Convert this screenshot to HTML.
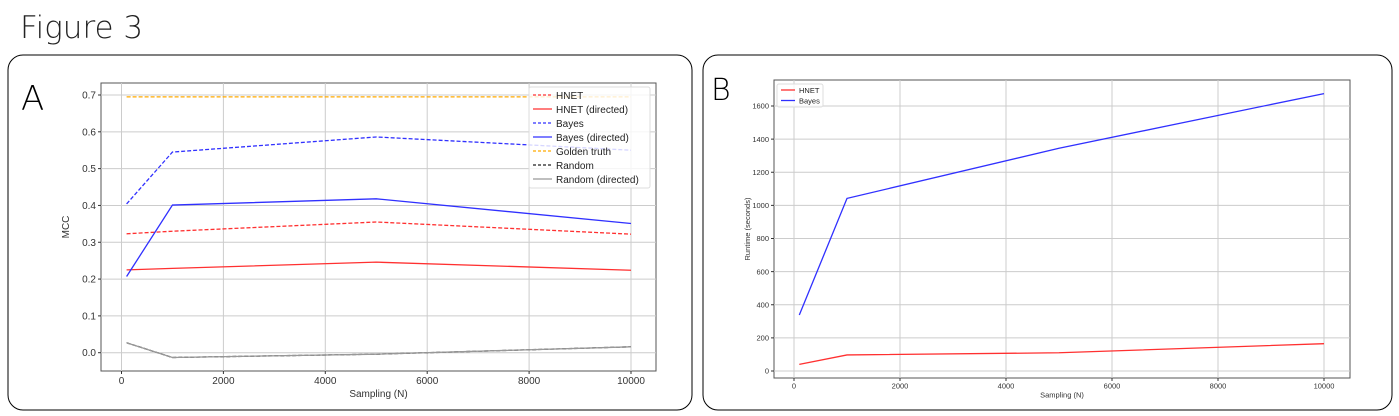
<!DOCTYPE html>
<html><head><meta charset="utf-8"><style>
body{margin:0;background:#fff;width:1399px;height:416px;overflow:hidden;font-family:"Liberation Sans",sans-serif}
svg{position:absolute;left:0;top:0}
</style></head><body>
<svg id="s" width="1399" height="416" xmlns="http://www.w3.org/2000/svg">
<text x="20" y="38" font-size="31" fill="#222" font-family="DejaVu Sans, sans-serif" font-weight="300">Figure 3</text>
<rect x="8" y="55" width="684" height="355" rx="15" fill="#fff" stroke="#000" stroke-width="1"/>
<rect x="703" y="55" width="689" height="355" rx="15" fill="#fff" stroke="#000" stroke-width="1"/>
<text x="21" y="110" font-size="34" fill="#000" font-family="DejaVu Sans, sans-serif" font-weight="300">A</text>
<text x="711" y="100" font-size="30" fill="#000" font-family="DejaVu Sans, sans-serif" font-weight="300">B</text>
<g id="ga"></g><g id="gb"></g>
</svg>
<script>
const xA=[100,1000,5000,10000];
const hnet=[0.323,0.330,0.355,0.322];
const hnetDir=[0.225,0.229,0.246,0.224];
const bayes=[0.404,0.545,0.586,0.550];
const bayesDir=[0.207,0.401,0.418,0.351];
const golden=[0.695,0.695,0.695,0.695];
const rand=[0.027,-0.013,-0.004,0.016];
const randDir=[0.027,-0.013,-0.004,0.016];
const xTicks=[0,2000,4000,6000,8000,10000];
const yTicksA=[0,0.1,0.2,0.3,0.4,0.5,0.6,0.7];
const xB=[100,1000,5000,10000];
const hnetRt=[40,97,110,165];
const bayesRt=[338,1042,1345,1675];
const yTicksB=[0,200,400,600,800,1000,1200,1400,1600];
const NS='http://www.w3.org/2000/svg';
function mk(p,t,a){const e=document.createElementNS(NS,t);for(const k in a)e.setAttribute(k,a[k]);p.appendChild(e);return e;}
function chart(g,o){
  const sx=v=>o.x0+(v-0)*(o.x1-o.x0)/10000;
  const sy=v=>o.y0+(v-o.v0)*(o.y1-o.y0)/(o.v1-o.v0);
  const bg=mk(g,'rect',{x:o.L,y:o.T,width:o.R-o.L,height:o.B-o.T,fill:'#fff',stroke:'#555','stroke-width':1});
  
  
  xTicks.forEach(t=>{const x=sx(t);
    const l=mk(g,'line',{x1:x,x2:x,y1:o.T,y2:o.B,stroke:'#ccc','stroke-width':1});
    
    
    mk(g,'line',{x1:x,x2:x,y1:o.B,y2:o.B+3,stroke:'#333'});
    const tx=mk(g,'text',{x:x,y:o.B+3+o.fs,'font-size':o.fs,'text-anchor':'middle',fill:'#333'});tx.textContent=t;
    
    });
  o.yt.forEach(t=>{const y=sy(t);
    const l=mk(g,'line',{x1:o.L,x2:o.R,y1:y,y2:y,stroke:'#ccc','stroke-width':1});
    
    
    mk(g,'line',{x1:o.L-3,x2:o.L,y1:y,y2:y,stroke:'#333'});
    const tx=mk(g,'text',{x:o.L-5,y:y+o.fs*0.35,'font-size':o.fs,'text-anchor':'end',fill:'#333'});tx.textContent=o.fmt(t);
    
    });
  const xl=mk(g,'text',{x:(o.L+o.R)/2,y:o.B+o.fs*2.6,'font-size':o.fs,'text-anchor':'middle',fill:'#333'});xl.textContent='Sampling (N)';
  
  
  const yx=o.L-o.fs*3.2, ym=(o.T+o.B)/2;
  const yl=mk(g,'text',{x:yx,y:ym,'font-size':o.fs,'text-anchor':'middle',fill:'#333',transform:`rotate(-90 ${yx} ${ym})`});yl.textContent=o.ylab;
  
  
  o.series.forEach(s=>{
    const p=mk(g,'polyline',{points:o.xs.map((x,i)=>sx(x)+','+sy(s.v[i])).join(' '),fill:'none',stroke:s.c,'stroke-width':1.3,'stroke-dasharray':s.d?'4,2':'none'});
    
    });
  const lg=mk(g,'rect',{x:o.lg.x,y:o.lg.y,width:o.lg.w,height:o.lg.h,fill:'rgba(255,255,255,0.8)',stroke:'#ddd',rx:2});
  
  
  o.series.forEach((s,i)=>{const y=o.lg.y+o.lg.r0+i*o.lg.dy;
    mk(g,'line',{x1:o.lg.x+4,x2:o.lg.x+4+o.lg.ll,y1:y,y2:y,stroke:s.c,'stroke-width':1.3,'stroke-dasharray':s.d?'3,2':'none'});
    const t=mk(g,'text',{x:o.lg.x+8+o.lg.ll,y:y+o.fs*0.38,'font-size':o.fs,fill:'#222'});t.textContent=s.label;
    
    });
}
chart(document.getElementById('ga'),{id:'panel-a',L:101,R:656,T:83,B:371,x0:121.5,x1:631,y0:352.7,y1:95,v0:0,v1:0.7,fs:10,yt:yTicksA,fmt:t=>t.toFixed(1),ylab:'MCC',xs:xA,
 series:[{n:'hnet-line',label:'HNET',v:hnet,c:'#ff3030',d:1},{n:'hnet-directed-line',label:'HNET (directed)',v:hnetDir,c:'#ff3030'},
 {n:'bayes-line',label:'Bayes',v:bayes,c:'#3030ff',d:1},{n:'bayes-directed-line',label:'Bayes (directed)',v:bayesDir,c:'#3030ff'},
 {n:'golden-truth-line',label:'Golden truth',v:golden,c:'#ffaa00',d:1},{n:'random-line',label:'Random',v:rand,c:'#222',d:1},
 {n:'random-directed-line',label:'Random (directed)',v:randDir,c:'#999'}],
 lg:{x:529,y:87,w:121,h:101,r0:8,dy:14,ll:19}});
chart(document.getElementById('gb'),{id:'panel-b',L:774,R:1350,T:80,B:378,x0:794,x1:1324,y0:371,y1:106,v0:0,v1:1600,fs:7.5,yt:yTicksB,fmt:t=>t,ylab:'Runtime (seconds)',xs:xB,
 series:[{n:'hnet-runtime-line',label:'HNET',v:hnetRt,c:'#ff3030'},{n:'bayes-runtime-line',label:'Bayes',v:bayesRt,c:'#3030ff'}],
 lg:{x:777,y:84,w:46,h:23,r0:6,dy:10.5,ll:14}});
</script>
</body></html>
